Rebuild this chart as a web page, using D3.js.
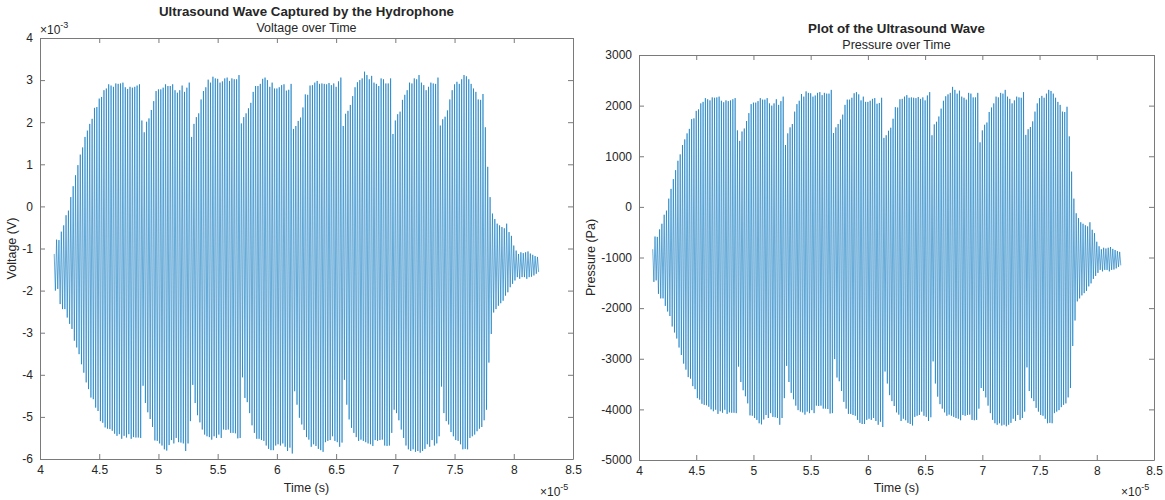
<!DOCTYPE html>
<html>
<head>
<meta charset="utf-8">
<script src="https://cdn.jsdelivr.net/npm/d3@7"></script>
<style>
body { margin: 0; background: #fff; }
svg text { font-family: "Liberation Sans", Arial, Helvetica, sans-serif; fill: #262626; }
</style>
</head>
<body>
<svg id="chart" width="1165" height="500"></svg>
<script>
// hydrophone capture: one peak and one trough per cycle (mV)
const sampleStart = 4.12e-5;   // s
const cyclePeriod = 0.2e-6;    // s, 5 MHz burst
const sensitivity = 1.35e-6;   // V per Pa

const voltPeaks = [
  -1.13,-0.79,-0.80,-0.60,-0.45,-0.21,-0.10,0.22,0.48,0.74,0.98,1.23,1.40,1.65,1.80,1.96,2.08,2.34,2.36,2.56,2.60,2.76,2.80,2.90,2.87,2.84,2.92,2.91,2.92,2.94,2.83,2.79,2.84,2.82,2.84,2.87,2.90,
  2.04,1.76,2.01,2.09,2.29,2.50,2.74,2.78,2.78,2.82,2.90,2.86,2.86,2.90,2.76,2.70,2.76,2.87,2.72,2.82,2.94,
  1.65,1.96,2.12,2.21,2.54,2.74,2.83,3.01,2.94,3.08,3.04,3.03,2.94,2.97,3.04,3.06,2.98,3.04,3.02,3.02,3.12,
  1.97,2.12,2.21,2.33,2.46,2.72,2.86,2.86,2.91,3.03,3.06,3.00,2.84,2.94,2.80,2.80,2.83,2.88,2.90,2.75,2.77,2.91,
  1.84,1.91,2.03,2.11,2.35,2.66,2.65,2.87,2.88,2.94,2.98,2.91,2.92,2.91,2.90,2.93,2.88,2.92,2.84,2.97,3.06,
  1.91,2.20,2.27,2.41,2.62,2.83,2.95,3.00,3.04,3.20,3.12,3.02,3.10,2.94,2.91,2.86,3.04,3.02,2.92,2.92,3.04,
  1.72,2.04,2.19,2.25,2.53,2.65,2.76,2.94,2.92,3.04,3.02,3.12,2.94,2.88,2.76,2.84,2.94,2.92,2.91,3.06,
  1.92,2.07,2.13,2.28,2.54,2.76,2.90,2.96,2.91,3.02,3.12,3.09,3.02,2.91,2.80,2.72,2.54,2.53,2.67,1.88,
  0.94,0.22,-0.17,-0.30,-0.41,-0.45,-0.49,-0.52,-0.41,-0.61,-0.70,-0.93,-1.05,-1.13,-1.09,-1.11,-1.09,-1.07,-1.12,-1.15,-1.18,-1.20
];
const voltTroughs = [
  -2.00,-1.96,-2.32,-2.44,-2.44,-2.64,-2.79,-2.91,-3.19,-3.35,-3.51,-3.75,-3.95,-4.18,-4.34,-4.54,-4.58,-4.78,-4.86,-5.10,-5.14,-5.25,-5.28,-5.29,-5.33,-5.40,-5.45,-5.41,-5.52,-5.45,-5.49,-5.41,-5.52,-5.48,-5.49,-5.49,-5.50,
  -4.26,-4.67,-4.89,-5.05,-5.24,-5.56,-5.57,-5.63,-5.68,-5.77,-5.80,-5.67,-5.55,-5.63,-5.50,-5.60,-5.61,-5.63,-5.81,-5.63,-5.10,
  -4.24,-4.67,-4.96,-5.13,-5.30,-5.42,-5.46,-5.48,-5.54,-5.46,-5.50,-5.42,-5.50,-5.30,-5.31,-5.30,-5.38,-5.38,-5.39,-5.51,-5.50,
  -4.06,-4.55,-4.65,-4.91,-5.20,-5.38,-5.52,-5.52,-5.55,-5.57,-5.68,-5.76,-5.79,-5.79,-5.68,-5.65,-5.68,-5.63,-5.71,-5.81,-5.73,-5.87,
  -4.39,-4.71,-5.02,-5.18,-5.31,-5.48,-5.54,-5.71,-5.65,-5.69,-5.76,-5.79,-5.83,-5.60,-5.57,-5.55,-5.46,-5.57,-5.60,-5.71,-5.61,
  -4.12,-4.71,-5.06,-5.26,-5.38,-5.48,-5.57,-5.54,-5.57,-5.60,-5.63,-5.65,-5.69,-5.55,-5.57,-5.55,-5.54,-5.68,-5.69,-5.68,-5.38,
  -4.83,-4.91,-5.08,-5.30,-5.50,-5.68,-5.77,-5.81,-5.77,-5.83,-5.81,-5.85,-5.81,-5.76,-5.65,-5.71,-5.55,-5.68,-5.63,-5.46,
  -4.28,-4.91,-5.10,-5.18,-5.36,-5.46,-5.55,-5.57,-5.65,-5.77,-5.76,-5.77,-5.50,-5.46,-5.42,-5.34,-5.28,-5.24,-5.08,-4.83,
  -3.71,-3.03,-2.52,-2.44,-2.36,-2.30,-2.24,-2.12,-2.04,-1.92,-1.84,-1.76,-1.68,-1.72,-1.68,-1.68,-1.72,-1.68,-1.67,-1.64,-1.60,-1.56
];

const timeTicks = [4, 4.5, 5, 5.5, 6, 6.5, 7, 7.5, 8, 8.5];   // x 1e-5 s
const voltTicks = [-6, -5, -4, -3, -2, -1, 0, 1, 2, 3, 4];    // x 1e-3 V
const pressTicks = [-5000, -4000, -3000, -2000, -1000, 0, 1000, 2000, 3000];

// peak, trough, peak, ... on a uniform time base
const samples = [];
voltPeaks.forEach((p, i) => {
  samples.push({t: sampleStart + i * cyclePeriod, mv: p});
  samples.push({t: sampleStart + (i + 0.5) * cyclePeriod, mv: voltTroughs[i]});
});

const svg = d3.select("#chart");
const axisColor = "#7a7a7a";

const generatePlot = (cfg) => {
  const g = svg.append("g");
  const x = d3.scaleLinear().domain([4e-5, 8.5e-5]).range([cfg.left, cfg.right]);
  const y = d3.scaleLinear().domain(cfg.yDomain).range([cfg.bottom, cfg.top]);
  const fmtX = d => String(Math.round(d / 1e-5 * 100) / 100);

  const styleAxis = (sel) => {
    sel.select(".domain").attr("stroke", axisColor);
    sel.selectAll(".tick line").attr("stroke", axisColor);
    sel.selectAll(".tick text").attr("fill", "#262626").style("font-size", "12px")
      .style("font-family", '"Liberation Sans", Arial, sans-serif');
  };

  g.append("g").attr("transform", `translate(0,${cfg.bottom})`)
    .call(d3.axisBottom(x).tickValues(timeTicks.map(v => v * 1e-5)).tickFormat(fmtX)
      .tickSizeInner(-5).tickSizeOuter(0).tickPadding(6))
    .call(styleAxis);
  g.append("g").attr("transform", `translate(0,${cfg.top})`)
    .call(d3.axisTop(x).tickValues(timeTicks.map(v => v * 1e-5)).tickFormat("")
      .tickSizeInner(-5).tickSizeOuter(0))
    .call(styleAxis);
  g.append("g").attr("transform", `translate(${cfg.left},0)`)
    .call(d3.axisLeft(y).tickValues(cfg.yTicks).tickFormat(d => String(d))
      .tickSizeInner(-5).tickSizeOuter(0).tickPadding(7))
    .call(styleAxis);
  g.append("g").attr("transform", `translate(${cfg.right},0)`)
    .call(d3.axisRight(y).tickValues(cfg.yTicks).tickFormat("")
      .tickSizeInner(-5).tickSizeOuter(0))
    .call(styleAxis);

  const line = d3.line().x(d => x(d.t)).y(d => y(cfg.yValue(d)));
  g.append("path")
    .datum(samples)
    .attr("fill", "none")
    .attr("stroke", "#0072BD")
    .attr("stroke-width", 0.6)
    .attr("d", line);

  const cx = (cfg.left + cfg.right) / 2;
  g.append("text").attr("x", cx).attr("y", cfg.top - 22)
    .attr("text-anchor", "middle").style("font-size", "13.3px").style("font-weight", "bold")
    .text(cfg.title);
  g.append("text").attr("x", cx).attr("y", cfg.top - 6)
    .attr("text-anchor", "middle").style("font-size", "12.5px")
    .text(cfg.subtitle);

  g.append("text").attr("x", cx).attr("y", 492)
    .attr("text-anchor", "middle").style("font-size", "12.5px").text("Time (s)");
  g.append("text")
    .attr("transform", `translate(${cfg.left - cfg.yLabelOffset},${(cfg.top + cfg.bottom) / 2}) rotate(-90)`)
    .attr("text-anchor", "middle").style("font-size", "12.5px").text(cfg.yLabel);

  // x exponent
  const ex = g.append("text").attr("x", cfg.right - 33).attr("y", 496).style("font-size", "12px");
  ex.append("tspan").text("\u00d710");
  ex.append("tspan").attr("dy", -6).style("font-size", "9px").text("-5");

  if (cfg.yExponent) {
    const ey = g.append("text").attr("x", cfg.left).attr("y", cfg.top - 4).style("font-size", "12px");
    ey.append("tspan").text("\u00d710");
    ey.append("tspan").attr("dy", -6).style("font-size", "9px").text(cfg.yExponent);
  }
};

generatePlot({
  left: 40, right: 573, top: 38, bottom: 459,
  yDomain: [-6, 4], yTicks: voltTicks, yValue: d => d.mv,
  title: "Ultrasound Wave Captured by the Hydrophone",
  subtitle: "Voltage over Time",
  yLabel: "Voltage (V)", yLabelOffset: 24, yExponent: "-3"
});

generatePlot({
  left: 639, right: 1154, top: 55, bottom: 460,
  yDomain: [-5000, 3000], yTicks: pressTicks, yValue: d => d.mv * 1e-3 / sensitivity,
  title: "Plot of the Ultrasound Wave",
  subtitle: "Pressure over Time",
  yLabel: "Pressure (Pa)", yLabelOffset: 44, yExponent: null
});
</script>
</body>
</html>
